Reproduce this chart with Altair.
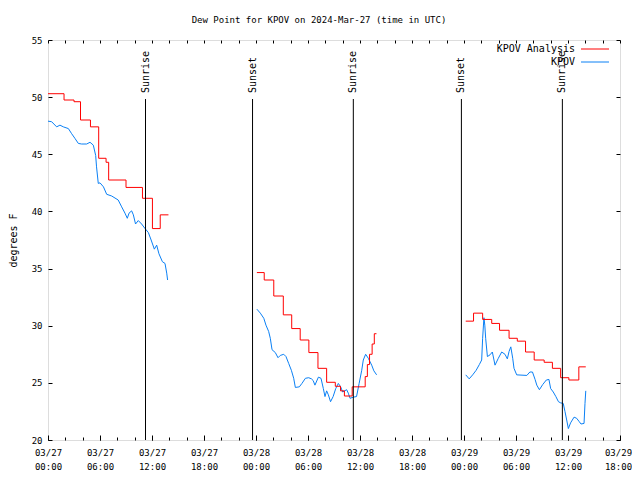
import altair as alt
import pandas as pd

# ---------------- data (hours since 2024-03-27 00:00 UTC) ----------------
obs_h1 = [0, 0.42, 1.0, 1.38, 1.77, 2.35, 2.73, 3.1, 3.5, 3.88, 4.46, 4.85, 5.23, 5.5, 5.6, 5.8, 6.0, 6.4,
          6.77, 7.35, 8.1, 8.5, 8.88, 9.15, 9.35, 9.65, 9.85, 10.1, 10.42, 10.8, 11.2, 11.58, 11.9, 12.27,
          12.54, 12.8, 13.2, 13.5, 13.7, 13.8]
obs_v1 = [47.9, 47.85, 47.4, 47.55, 47.4, 47.25, 46.8, 46.4, 45.95, 45.9, 45.9, 46.05, 45.8, 44.9, 43.9,
          42.45, 42.5, 42.15, 41.5, 41.35, 41.0, 40.4, 39.85, 39.4, 39.85, 40.05, 39.7, 38.9, 39.2, 38.9,
          38.5, 38.15, 37.5, 36.7, 37.05, 36.3, 35.6, 35.45, 34.6, 34.0]
obs_h2 = [24.1, 24.5, 24.9, 25.15, 25.46, 25.65, 25.85, 26.23, 26.54, 26.8, 27.2, 27.46, 27.77, 28.08,
          28.35, 28.54, 29.0, 29.3, 29.7, 30.08, 30.4, 30.6, 30.8, 31.2, 31.5, 31.77, 31.96, 32.15, 32.35,
          32.6, 32.9, 33.2, 33.5, 33.77, 34.0, 34.46, 34.65, 34.85, 35.23, 35.6, 35.9, 36.2, 36.38, 36.65,
          36.96, 37.35, 37.6, 37.92]
obs_v2 = [31.45, 31.1, 30.65, 30.05, 29.5, 28.9, 27.9, 27.65, 27.2, 27.4, 27.5, 27.3, 26.7, 26.1, 25.4,
          24.6, 24.65, 24.95, 25.4, 25.45, 25.35, 25.2, 24.8, 25.5, 25.4, 24.5, 23.8, 24.3, 23.95, 23.35,
          23.8, 24.5, 24.95, 24.65, 24.2, 24.4, 24.1, 23.65, 23.75, 23.8, 24.95, 26.1, 27.0, 27.5, 27.15,
          26.55, 26.05, 25.7]
obs_h3 = [48.2, 48.6, 49.0, 49.4, 49.77, 50.04, 50.15, 50.3, 50.4, 50.5, 50.7, 51.0, 51.27, 51.58, 51.96,
          52.35, 52.73, 53.0, 53.2, 53.4, 53.62, 53.77, 54.08, 55.25, 55.6, 55.9, 56.2, 56.4, 56.7, 57.08,
          57.5, 57.8, 58.0, 58.3, 58.6, 58.9, 59.15, 59.45, 59.65, 59.85, 60.04, 60.3, 60.7, 61.0, 61.3,
          61.5, 61.85, 61.96, 62.05]
obs_v3 = [25.7, 25.35, 25.7, 26.1, 26.6, 27.0, 28.9, 30.7, 30.05, 28.9, 27.3, 27.45, 27.7, 26.55, 27.15,
          27.7, 27.5, 27.1, 27.75, 28.15, 27.15, 26.27, 25.7, 25.65, 25.95, 25.95, 25.3, 24.8, 24.4, 24.85,
          25.25, 25.3, 24.5, 24.2, 23.8, 23.35, 23.25, 23.2, 22.5, 21.75, 21.0, 21.5, 22.0, 21.9, 21.6,
          21.4, 21.45, 23.2, 24.3]

ana_h1 = [0, 1.85, 3.0, 3.75, 4.9, 5.85, 6.7, 7.0, 9.0, 10.9, 12.05, 12.95, 13.9]
ana_v1 = [50.3, 49.75, 49.6, 48.0, 47.4, 44.65, 44.3, 42.75, 42.1, 41.15, 38.5, 39.7, 39.7]
ana_h2 = [24.1, 24.95, 26.05, 27.15, 28.12, 29.1, 30.1, 31.15, 32.15, 33.15, 33.75, 34.2, 35.1, 36.6,
          36.85, 37.1, 37.4, 37.65, 37.9]
ana_v2 = [34.65, 34.0, 32.6, 30.95, 29.75, 28.75, 27.65, 26.27, 25.05, 24.7, 24.3, 23.85, 24.65, 25.55,
          26.6, 27.5, 28.4, 29.3, 29.3]
ana_h3 = [48.2, 49.1, 50.15, 51.2, 52.1, 53.2, 54.15, 55.1, 56.1, 57.25, 58.2, 59.15, 60.1, 61.25, 62.05]
ana_v3 = [30.4, 31.1, 30.55, 30.2, 29.6, 28.9, 28.65, 27.7, 27.0, 26.8, 26.27, 25.45, 25.25, 26.4, 26.4]

sun_events = ["Sunrise", "Sunset", "Sunrise", "Sunset", "Sunrise"]
sun_hours = [11.25, 23.6, 35.23, 47.7, 59.35]

series_names = ["KPOV Analysis", "KPOV"]
series_colors = ["#ff0000", "#0a80f5"]

x_major = list(range(0, 67, 6))
x_minor = list(range(0, 67, 2))
y_ticks = list(range(20, 56, 5))

TITLE = "Dew Point for KPOV on 2024-Mar-27 (time in UTC)"
FONT = "DejaVu Sans Mono"


def seg_frame(hs, vs, name, seg):
    return pd.DataFrame({"h": hs, "v": vs, "series": name, "seg": seg})


obs_df = pd.concat([seg_frame(obs_h1, obs_v1, "KPOV", 1), seg_frame(obs_h2, obs_v2, "KPOV", 2),
                    seg_frame(obs_h3, obs_v3, "KPOV", 3)], ignore_index=True)
ana_df = pd.concat([seg_frame(ana_h1, ana_v1, "KPOV Analysis", 1),
                    seg_frame(ana_h2, ana_v2, "KPOV Analysis", 2),
                    seg_frame(ana_h3, ana_v3, "KPOV Analysis", 3)], ignore_index=True)
sun_df = pd.DataFrame({"h": sun_hours, "event": sun_events})
key_df = pd.DataFrame({"series": series_names})

xs = alt.Scale(domain=[0, 66], nice=False, zero=False)
ys = alt.Scale(domain=[20, 55], nice=False, zero=False)
cs = alt.Scale(domain=series_names, range=series_colors)
# rows of the gnuplot-style key (label on the left, line sample on the right)
key_rows = alt.Scale(type="point", domain=series_names, range=[9, 22], padding=0)

label_expr = ("['03/' + (27 + floor(datum.value / 24)), "
              "((datum.value % 24) < 10 ? '0' : '') + (datum.value % 24) + ':00']")

ax_x_labels = alt.Axis(orient="bottom", values=x_major, labelExpr=label_expr, ticks=False, tickSize=0,
                       domain=False, grid=False, labelFont=FONT, labelFontSize=9, labelColor="black",
                       labelPadding=8, labelFlush=False, labelOverlap=False, labelBound=False,
                       labelLineHeight=14,
                       labelOffset=alt.ConditionalAxisNumber(
                           condition={"test": "datum.value >= 66", "value": -2}, value=0))
ax_x_major = alt.Axis(orient="bottom", values=x_major, labels=False, tickSize=5, offset=-5,
                      domain=False, grid=False, tickColor="black")
ax_x_minor = alt.Axis(orient="bottom", values=x_minor, labels=False, tickSize=3, offset=-3,
                      domain=False, grid=False, tickColor="black")
ax_x_top = alt.Axis(orient="top", values=x_minor, labels=False, tickSize=3, offset=-3,
                    domain=False, grid=False, tickColor="black")
ax_y_labels = alt.Axis(orient="left", values=y_ticks, ticks=False, tickSize=0, domain=False, grid=False,
                       labelFont=FONT, labelFontSize=9, labelColor="black", labelPadding=6,
                       titleFont=FONT, titleFontSize=10, titleFontWeight="normal", titleColor="black",
                       titleX=-35, titleY=200, titleBaseline="middle", titleAlign="center")
ax_y_left = alt.Axis(orient="left", values=y_ticks, labels=False, tickSize=4, offset=-4,
                     domain=False, grid=False, tickColor="black")
ax_y_right = alt.Axis(orient="right", values=y_ticks, labels=False, tickSize=4, offset=-4,
                      domain=False, grid=False, tickColor="black")

obs_line = alt.Chart(obs_df).mark_line(strokeWidth=1).encode(
    x=alt.X("h:Q", scale=xs, axis=ax_x_labels, title=None),
    y=alt.Y("v:Q", scale=ys, axis=ax_y_labels, title="degrees F"),
    color=alt.Color("series:N", scale=cs, legend=None),
    detail="seg:N",
)
ana_line = alt.Chart(ana_df).mark_line(strokeWidth=1, interpolate="step-after").encode(
    x=alt.X("h:Q", scale=xs, axis=ax_x_major, title=None),
    y=alt.Y("v:Q", scale=ys, axis=ax_y_left, title=None),
    color=alt.Color("series:N", scale=cs, legend=None),
    detail="seg:N",
)
tick_layer = alt.Chart(obs_df).mark_line(opacity=0).encode(
    x=alt.X("h:Q", scale=xs, axis=ax_x_minor, title=None),
    y=alt.Y("v:Q", scale=ys, axis=ax_y_right, title=None),
    detail="seg:N",
)
sun_rules = alt.Chart(sun_df).mark_rule(color="black", strokeWidth=1).encode(
    x=alt.X("h:Q", scale=xs, axis=ax_x_top, title=None),
    y=alt.value(59),
    y2=alt.value(400),
)
sun_text = alt.Chart(sun_df).mark_text(angle=270, align="left", baseline="middle", font=FONT,
                                       fontSize=10, color="black").encode(
    x=alt.X("h:Q", scale=xs, axis=None),
    y=alt.value(53),
    text="event:N",
)
key_text = alt.Chart(key_df).mark_text(align="right", baseline="middle", font=FONT, fontSize=10,
                                       color="black").encode(
    x=alt.value(527),
    y=alt.Y("series:N", scale=key_rows, axis=None),
    text="series:N",
)
key_line = alt.Chart(key_df).mark_rule(strokeWidth=1).encode(
    x=alt.value(533),
    x2=alt.value(561),
    y=alt.Y("series:N", scale=key_rows, axis=None),
    color=alt.Color("series:N", scale=cs, legend=None),
)

chart = alt.layer(obs_line, ana_line, tick_layer, sun_rules, sun_text, key_text, key_line).resolve_scale(
    y="independent"
).resolve_axis(
    x="independent", y="independent"
).properties(
    width=572, height=400,
    autosize=alt.AutoSizeParams(type="none"),
    padding={"left": 40, "top": 32, "right": 12, "bottom": 32},
    title=alt.TitleParams(TITLE, font=FONT, fontSize=9, fontWeight="normal", color="black",
                          anchor="middle", dx=-15, offset=7, baseline="middle"),
).configure_view(stroke="black", strokeWidth=1).configure(background="white")

chart.save("out.html", embed_options={"renderer": "svg", "actions": False})
